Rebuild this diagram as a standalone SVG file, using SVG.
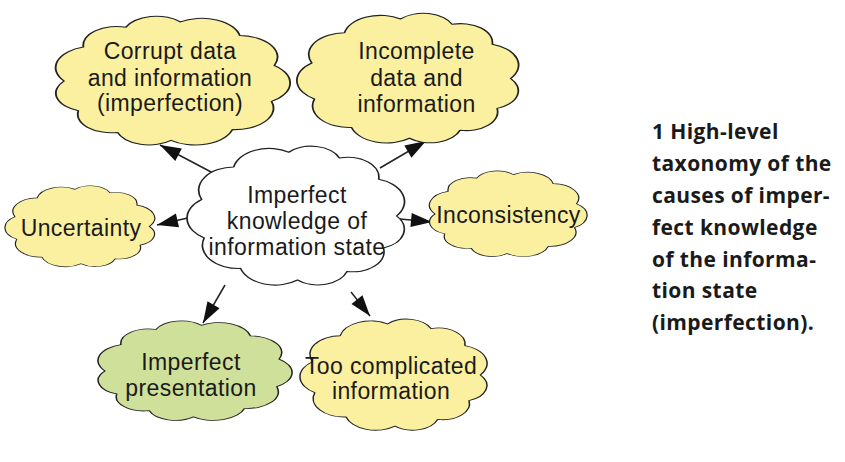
<svg xmlns="http://www.w3.org/2000/svg" xmlns:xlink="http://www.w3.org/1999/xlink" width="845" height="462" viewBox="0 0 845 462">
<style>
.cl{stroke:#222;stroke-width:1.4;vector-effect:non-scaling-stroke;stroke-linejoin:round}
.y{fill:#faf0a0}
.g{fill:#cfe09a}
.w{fill:#ffffff}
.t{font-family:"Liberation Sans",Arial,sans-serif;font-size:23px;letter-spacing:0.4px;fill:#1a1a1a;text-anchor:middle}
.c{font-family:"Open Sans","Liberation Sans",sans-serif;font-size:21px;letter-spacing:0.4px;font-weight:bold;fill:#1a1a1a}
.ln{stroke:#222;stroke-width:1.5;fill:none;marker-end:url(#ah)}
</style>
<defs>
<path id="cloud" d="M -80,0 A 29 29 0 0 1 -65.5,-45.9 A 25 25 0 0 1 -33.8,-72.5 A 25 25 0 0 1 7,-79.7 A 29 29 0 0 1 51.4,-61.3 A 29 29 0 0 1 77.3,-20.7 A 29 29 0 0 1 75.2,27.4 A 29 29 0 0 1 45.9,65.5 A 29 29 0 0 1 0,80 A 25 25 0 0 1 -40,69.3 A 25 25 0 0 1 -69.3,40 A 25 25 0 0 1 -80,0 Z"/>
<marker id="ah" viewBox="-22 -8 24 16" refX="0" refY="0" markerWidth="24" markerHeight="16" markerUnits="userSpaceOnUse" orient="auto">
<path d="M0,0 L-21,-7 L-21,7 Z" fill="#111"/>
</marker>
</defs>
<g id="connectors">
<line class="ln" x1="213" y1="173" x2="160" y2="145"/>
<line class="ln" x1="380" y1="168" x2="426" y2="141"/>
<line class="ln" x1="192" y1="217" x2="157" y2="225"/>
<line class="ln" x1="400" y1="219" x2="432" y2="222"/>
<line class="ln" x1="225" y1="285" x2="203" y2="323"/>
<line class="ln" x1="351" y1="292" x2="370" y2="316"/>
</g>
<g id="corrupt">
<use xlink:href="#cloud" class="cl y" transform="translate(171,81) scale(1.337,0.742)"/>
<text class="t" x="170" y="59">Corrupt data</text>
<text class="t" x="170" y="85.5">and information</text>
<text class="t" x="170" y="111">(imperfection)</text>
</g>
<g id="incomplete">
<use xlink:href="#cloud" class="cl y" transform="translate(409.5,78.5) scale(-1.264,0.747)"/>
<text class="t" x="416.5" y="59">Incomplete</text>
<text class="t" x="416.5" y="85.5">data and</text>
<text class="t" x="416.5" y="112">information</text>
</g>
<g id="center">
<use xlink:href="#cloud" class="cl w" transform="translate(297.5,216) scale(-1.24,0.8)"/>
<text class="t" x="297" y="203">Imperfect</text>
<text class="t" x="297" y="229">knowledge of</text>
<text class="t" x="297" y="255">information state</text>
</g>
<g id="uncertainty">
<use xlink:href="#cloud" class="cl y" transform="translate(81,226.5) scale(-0.854,0.466)"/>
<text class="t" x="81" y="236">Uncertainty</text>
</g>
<g id="inconsistency">
<use xlink:href="#cloud" class="cl y" transform="translate(507,214) scale(0.899,0.494)"/>
<text class="t" x="508.5" y="223">Inconsistency</text>
</g>
<g id="presentation">
<use xlink:href="#cloud" class="cl g" transform="translate(193.5,371) scale(1.107,0.573)"/>
<text class="t" x="191" y="370">Imperfect</text>
<text class="t" x="191" y="396">presentation</text>
</g>
<g id="complicated">
<use xlink:href="#cloud" class="cl y" transform="translate(395,375) scale(-1.067,0.64)"/>
<text class="t" x="391" y="374">Too complicated</text>
<text class="t" x="391" y="399">information</text>
</g>
<g id="caption">
<text class="c" x="652" y="139">1  High-level</text>
<text class="c" x="652" y="171">taxonomy of the</text>
<text class="c" x="652" y="203">causes of imper-</text>
<text class="c" x="652" y="235">fect knowledge</text>
<text class="c" x="652" y="266.5">of the informa-</text>
<text class="c" x="652" y="298">tion state</text>
<text class="c" x="652" y="330">(imperfection).</text>
</g>
</svg>
